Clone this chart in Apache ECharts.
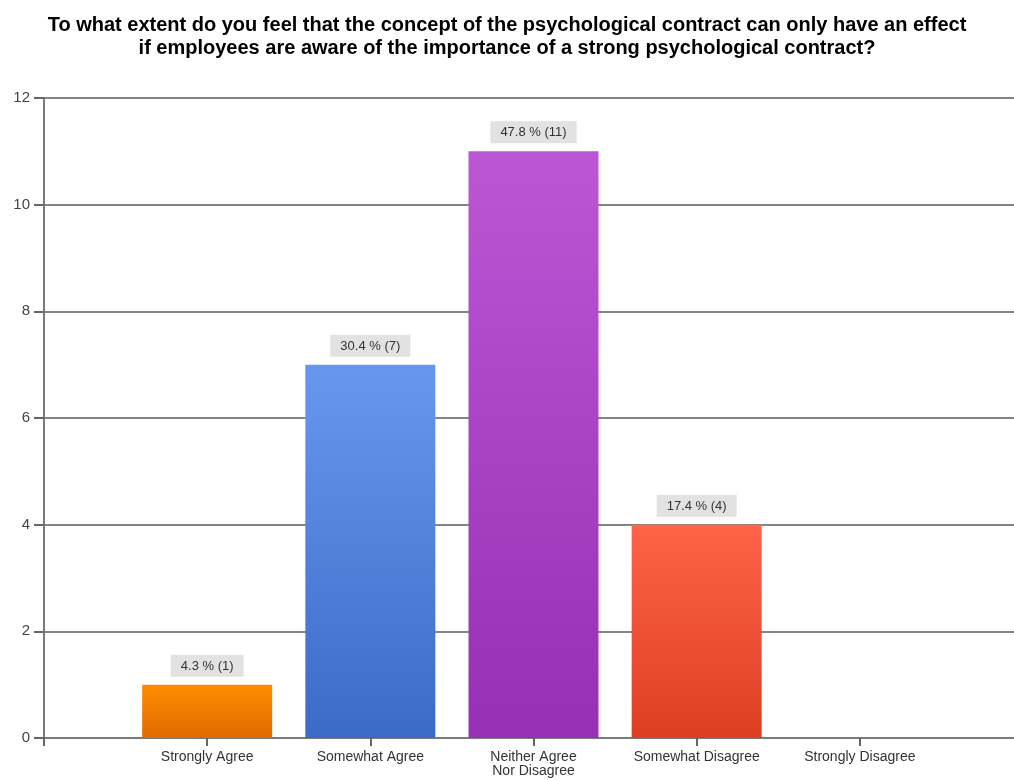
<!DOCTYPE html>
<html>
<head>
<meta charset="utf-8">
<script src="https://cdn.jsdelivr.net/npm/echarts@6/dist/echarts.min.js"></script>
<style>
html,body{margin:0;padding:0;background:#fff;}
#chart{width:1014px;height:780px;}
</style>
</head>
<body>
<div id="chart"></div>
<script>
const titleText = "To what extent do you feel that the concept of the psychological contract can only have an effect\nif employees are aware of the importance of a strong psychological contract?";
const categories = ["", "Strongly Agree", "Somewhat Agree", "Neither Agree\nNor Disagree", "Somewhat Disagree", "Strongly Disagree", ""];
const counts = [null, 1, 7, 11, 4, 0, null];
const percents = [null, "4.3", "30.4", "47.8", "17.4", "0.0", null];
const yTicks = [0, 2, 4, 6, 8, 10, 12];
const topColors = [null, "#FF8C00", "#6897EE", "#BB56D4", "#FF6448", null, null];
const bottomColors = [null, "#E06A00", "#3B6BC6", "#9630B4", "#DC3E22", null, null];

const chart = echarts.init(document.getElementById('chart'));
const seriesData = counts.map((v, i) => {
  if (v === null || v === 0) return { value: v === 0 ? null : v };
  return {
    value: v,
    itemStyle: {
      color: new echarts.graphic.LinearGradient(0, 0, 0, 1, [
        { offset: 0, color: topColors[i] },
        { offset: 1, color: bottomColors[i] }
      ])
    }
  };
});

chart.setOption({
  animation: false,
  title: {
    text: titleText,
    left: 'center',
    top: 9,
    textStyle: {
      fontFamily: 'Liberation Sans, Arial, sans-serif',
      fontSize: 20,
      fontWeight: 'bold',
      color: '#000',
      lineHeight: 23
    }
  },
  grid: { left: 44, width: 979, top: 98, bottom: 42, containLabel: false, outerBoundsMode: 'none' },
  xAxis: {
    type: 'category',
    data: categories,
    boundaryGap: false,
    axisLine: { lineStyle: { color: '#7a7a7a', width: 2 } },
    axisTick: { show: true, length: 8, lineStyle: { color: '#666', width: 2 } },
    axisLabel: {
      interval: 0,
      fontFamily: 'Liberation Sans, Arial, sans-serif',
      fontSize: 14,
      color: '#333',
      margin: 12,
      lineHeight: 14
    },
    splitLine: { show: false }
  },
  yAxis: {
    type: 'value',
    min: yTicks[0],
    max: yTicks[yTicks.length - 1],
    interval: 2,
    axisLine: { show: true, lineStyle: { color: '#7a7a7a', width: 2 } },
    axisTick: { show: true, length: 10, lineStyle: { color: '#666', width: 2 } },
    axisLabel: {
      fontFamily: 'Liberation Sans, Arial, sans-serif',
      fontSize: 15,
      color: '#444',
      margin: 14
    },
    splitLine: { show: true, lineStyle: { color: '#858585', width: 2 } }
  },
  series: [{
    type: 'bar',
    data: seriesData,
    barWidth: 130,
    label: {
      show: true,
      position: 'top',
      distance: 8,
      formatter: p => percents[p.dataIndex] + ' % (' + counts[p.dataIndex] + ')',
      backgroundColor: '#E2E2E2',
      padding: [5, 10, 4, 10],
      fontFamily: 'Liberation Sans, Arial, sans-serif',
      fontSize: 13,
      color: '#333'
    }
  }]
});
</script>
</body>
</html>
